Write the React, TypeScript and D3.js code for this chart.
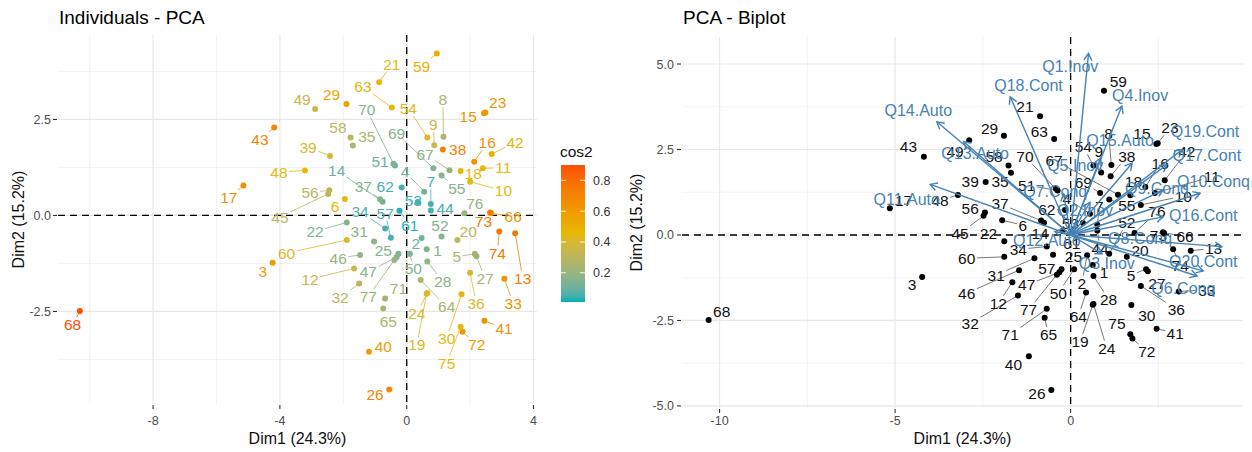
import React from "react";
import * as d3 from "d3";

// ---------- individuals ----------
const indNames = ["1","2","3","4","5","6","7","8","9","10","11","12","13","14","15","16","17","18","19","20","21","22","23","24","25","26","27","28","29","30","31","32","33","34","35","36","37","38","39","40","41","42","43","44","45","46","47","48","49","50","51","52","53","54","55","56","57","58","59","60","61","62","63","64","65","66","67","68","69","70","71","72","73","74","75","76","77"];
const dim1 = [0.63,0.47,-4.23,0.55,2.15,-1.95,0.76,1.16,0.87,2.0,2.4,-1.66,3.42,-0.76,2.44,2.13,-5.15,1.7,0.63,1.6,-0.87,-1.89,2.48,0.65,-0.26,-0.55,2.2,0.65,-1.9,1.73,-1.03,-1.5,3.08,-0.68,-1.7,2.0,-0.84,1.14,-2.42,-1.19,2.45,2.68,-4.18,0.76,-2.48,-1.47,-0.32,-3.21,-2.89,0.1,-0.37,1.1,0.35,0.65,1.1,-2.44,-0.5,-1.77,0.95,-1.89,-0.23,-0.16,-0.47,0.44,-0.74,2.66,1.35,-10.31,0.84,-0.42,-0.68,1.76,2.63,2.92,1.7,1.82,-0.39];
const dim2 = [-0.88,-0.59,-1.23,0.62,-1.0,0.43,0.3,2.05,1.83,0.88,1.23,-1.38,-0.46,0.36,2.66,1.4,0.78,1.16,-2.04,-0.64,3.47,-0.18,2.68,-2.02,-1.0,-4.53,-1.06,-1.2,2.9,-2.05,-0.68,-1.77,-1.65,-0.34,1.82,-1.49,0.42,1.72,1.55,-3.55,-2.74,1.6,2.29,0.13,0.56,-1.03,-1.09,1.17,2.77,-1.0,1.3,-0.55,0.35,2.03,1.04,0.66,-0.58,2.03,4.22,-0.64,0.12,0.73,2.81,-1.68,-2.42,0.06,1.18,-2.49,1.23,1.35,-2.16,-3.03,0.08,-0.42,-2.9,0.06,-1.16];
const cos2 = [0.15,0.12,0.6,0.12,0.25,0.45,0.05,0.25,0.35,0.45,0.45,0.35,0.75,0.1,0.62,0.65,0.65,0.45,0.42,0.3,0.45,0.15,0.62,0.42,0.15,0.7,0.22,0.18,0.55,0.45,0.18,0.3,0.65,0.05,0.25,0.4,0.15,0.72,0.4,0.6,0.65,0.5,0.7,0.05,0.3,0.2,0.15,0.45,0.35,0.15,0.1,0.15,0.04,0.42,0.15,0.3,0.05,0.3,0.5,0.42,0.02,0.05,0.45,0.25,0.25,0.6,0.18,0.9,0.15,0.15,0.22,0.6,0.75,0.75,0.45,0.2,0.2];
// repelled label anchors (data units)
const indLabelX1 = [0.97,0.29,-4.54,-0.05,1.58,-2.26,0.76,1.14,0.84,3.05,3.05,-3.05,3.66,-2.21,1.94,2.54,-5.61,2.1,0.32,1.94,-0.47,-2.89,2.87,0.32,-0.74,-1.0,2.47,1.14,-2.37,1.26,-1.5,-2.1,3.36,-1.47,-1.26,2.19,-1.37,1.61,-3.11,-0.74,3.07,3.42,-4.63,1.21,-4.0,-2.16,-1.21,-4.03,-3.3,0.21,-0.84,1.05,0.21,0.05,1.58,-3.05,-0.68,-2.17,0.47,-3.79,0.1,-0.68,-1.38,1.26,-0.58,3.36,0.58,-10.54,-0.32,-1.26,-0.26,2.21,2.42,2.86,1.26,2.15,-1.21];
const indLabelY1 = [-0.9,-0.72,-1.46,1.14,-1.07,0.23,0.88,3.01,2.36,0.64,1.24,-1.66,-1.64,1.18,2.57,1.9,0.46,1.1,-3.37,-0.42,3.94,-0.42,2.94,-2.55,-0.9,-4.67,-1.64,-1.72,3.14,-3.2,-0.42,-2.14,-2.29,0.1,2.07,-2.29,0.75,1.71,1.78,-3.42,-2.94,1.9,1.97,0.19,-0.04,-1.11,-1.46,1.13,3.03,-1.38,1.4,-0.25,0.4,2.79,0.71,0.59,0.06,2.3,3.88,-0.98,-0.25,0.75,3.35,-2.38,-2.77,-0.03,1.6,-2.85,2.14,2.75,-1.9,-3.37,-0.16,-0.98,-3.85,0.32,-2.11];
const indLabelX2 = [0.95,0.32,-4.52,-0.11,1.72,-1.36,0.82,1.08,0.8,3.21,4.02,-2.06,4.07,-0.87,2.03,2.55,-4.76,1.79,0.27,1.98,-1.3,-2.34,2.83,1.03,0.08,-0.96,2.46,1.08,-2.31,2.17,-2.12,-2.86,3.88,-1.49,-2.01,3.01,-2.01,1.6,-2.86,-1.63,2.98,3.31,-4.62,0.84,-3.15,-2.96,-1.25,-3.72,-3.29,-0.35,-1.25,1.6,-0.01,0.36,1.6,-2.86,-0.68,-2.18,1.36,-2.96,0.03,-0.68,-0.89,0.22,-0.63,3.26,-0.47,-9.94,0.36,-1.3,-1.72,2.17,2.5,3.12,1.32,2.46,-1.2];
const indLabelY2 = [-1.1,-1.41,-1.46,1.07,-1.17,0.29,0.83,2.97,2.45,1.14,1.7,-2.0,-0.39,0.05,2.97,2.1,1.02,1.56,-3.12,-0.44,3.75,0.05,3.14,-3.31,-0.63,-4.63,-1.41,-1.88,3.12,-2.34,-1.17,-2.58,-1.61,-0.42,1.56,-2.17,0.91,2.29,1.56,-3.8,-2.87,2.44,2.58,-0.39,0.05,-1.7,-1.46,1.02,2.44,-1.7,1.46,0.36,0.34,2.58,0.85,0.78,-0.97,2.29,4.48,-0.68,-0.24,0.75,3.04,-2.39,-2.92,-0.03,2.19,-2.24,1.53,2.29,-2.92,-3.41,0.0,-0.88,-2.58,0.68,-2.19];

// ---------- variables ----------
const varNames = ["Q1.Inov","Q2.Inov","Q3.Inov","Q4.Inov","Q5.Inov","Q6.Conq","Q7.Conq","Q8.Conq","Q9.Conq","Q10.Conq","Q11.Auto","Q12.Auto","Q13.Auto","Q14.Auto","Q15.Auto","Q16.Cont","Q17.Cont","Q18.Cont","Q19.Cont","Q20.Cont"];
const varX = [0.51,0.55,0.9,1.46,0.85,3.6,-0.2,4.31,2.64,3.69,-4.0,-0.45,-3.05,-3.81,1.75,2.64,2.74,-1.72,3.17,3.78];
const varY = [5.31,0.95,-0.55,3.77,2.25,-1.2,1.2,-0.34,1.32,1.22,1.48,0.1,2.73,3.31,2.1,0.53,2.05,4.04,2.49,-1.05];
const varLabelX = [-0.01,0.41,1.03,1.98,0.13,3.21,-0.44,1.98,2.46,4.07,-4.67,-0.68,-2.72,-4.34,1.41,3.78,3.88,-1.2,3.83,3.78];
const varLabelY = [4.92,0.73,-0.83,4.09,2.05,-1.56,1.27,-0.1,1.37,1.56,1.04,-0.15,2.4,3.65,2.78,0.58,2.34,4.39,3.02,-0.78];

// ---------- axes ----------
const leftXTicks = [-8, -4, 0, 4];
const leftXMinor = [-10, -6, -2, 2];
const leftYTicks = [-2.5, 0, 2.5];
const leftYMinor = [-3.75, -1.25, 1.25, 3.75];
const rightXTicks = [-10, -5, 0];
const rightXMinor = [-7.5, -2.5, 2.5];
const rightYTicks = [-5, -2.5, 0, 2.5, 5];
const rightYMinor = [-3.75, -1.25, 1.25, 3.75];
const legendTicks = [0.2, 0.4, 0.6, 0.8];
const cos2Range = [0.01, 0.9];

const FONT = "'Liberation Sans', Arial, Helvetica, sans-serif";

function segmentTo(px: number, py: number, lx: number, ly: number, text: string, fs: number) {
  const w = text.length * fs * 0.556 + 3;
  const h = fs * 0.72 + 4;
  const dx = px - lx, dy = py - ly;
  if (Math.abs(dx) <= w / 2 && Math.abs(dy) <= h / 2) return null;
  const tx = dx === 0 ? Infinity : Math.abs(w / 2 / dx);
  const ty = dy === 0 ? Infinity : Math.abs(h / 2 / dy);
  const t = Math.min(tx, ty);
  const ex = lx + dx * t, ey = ly + dy * t;
  const len = Math.hypot(px - ex, py - ey);
  if (len < 7) return null;
  return { x1: px, y1: py, x2: ex, y2: ey };
}

function fmt(v: number) {
  return Number.isInteger(v) ? String(v) : v.toFixed(1);
}

export default function App() {
  const W = 1252, H = 452;
  const xL = d3.scaleLinear().domain([-11.0, 4.11]).range([58, 537]);
  const yL = d3.scaleLinear().domain([-4.91, 4.70]).range([404, 35]);
  const xR = d3.scaleLinear().domain([-11.07, 4.91]).range([682, 1243]);
  const yR = d3.scaleLinear().domain([-5.06, 5.79]).range([408, 37]);
  const col = d3
    .scaleLinear<string>()
    .domain([cos2Range[0], (cos2Range[0] + cos2Range[1]) / 2, cos2Range[1]])
    .range(["#00AFBB", "#E7B800", "#FC4E07"])
    .interpolate(d3.interpolateLab);
  const legY = d3.scaleLinear().domain(cos2Range).range([302, 165]);

  const fsInd = 15.5;
  const fsVar = 16;

  const panel = (
    x: d3.ScaleLinear<number, number>,
    y: d3.ScaleLinear<number, number>,
    xt: number[], xm: number[], yt: number[], ym: number[],
    yLabelRight: number
  ) => {
    const [x0, x1] = x.range();
    const [y0, y1] = y.range(); // y0 bottom, y1 top
    return (
      <g>
        {xm.map((v) => (
          <line key={"xm" + v} x1={x(v)} x2={x(v)} y1={y1} y2={y0} stroke="#F0F0F0" strokeWidth={0.8} />
        ))}
        {ym.map((v) => (
          <line key={"ym" + v} x1={x0} x2={x1} y1={y(v)} y2={y(v)} stroke="#F0F0F0" strokeWidth={0.8} />
        ))}
        {xt.map((v) => (
          <line key={"xt" + v} x1={x(v)} x2={x(v)} y1={y1} y2={y0} stroke="#E8E8E8" strokeWidth={1.2} />
        ))}
        {yt.map((v) => (
          <line key={"yt" + v} x1={x0} x2={x1} y1={y(v)} y2={y(v)} stroke="#E8E8E8" strokeWidth={1.2} />
        ))}
        {xt.map((v) => (
          <g key={"xl" + v}>
            <line x1={x(v)} x2={x(v)} y1={y0 + 1} y2={y0 + 5} stroke="#333" strokeWidth={1.1} />
            <text x={x(v)} y={424.5} textAnchor="middle" fontSize={12.5} fill="#4D4D4D" fontFamily={FONT}>
              {fmt(v)}
            </text>
          </g>
        ))}
        {yt.map((v) => (
          <g key={"yl" + v}>
            <line x1={x0 - 5} x2={x0 - 1} y1={y(v)} y2={y(v)} stroke="#333" strokeWidth={1.1} />
            <text x={yLabelRight} y={y(v) + 4.5} textAnchor="end" fontSize={12.5} fill="#4D4D4D" fontFamily={FONT}>
              {v.toFixed(1)}
            </text>
          </g>
        ))}
        <line x1={x0} x2={x1} y1={y(0)} y2={y(0)} stroke="#000" strokeWidth={1.3} strokeDasharray="7,5" />
        <line x1={x(0)} x2={x(0)} y1={y1} y2={y0} stroke="#000" strokeWidth={1.3} strokeDasharray="7,5" />
      </g>
    );
  };

  const idx = indNames.map((_, i) => i);

  // legend gradient stops
  const stops = d3.range(0, 1.0001, 0.05).map((t) => ({
    off: t,
    c: col(cos2Range[0] + t * (cos2Range[1] - cos2Range[0])),
  }));

  const arrowHead = (x0: number, y0: number, x1: number, y1: number) => {
    const a = Math.atan2(y1 - y0, x1 - x0);
    const L = 8, da = Math.PI / 6;
    const p1 = [x1 - L * Math.cos(a - da), y1 - L * Math.sin(a - da)];
    const p2 = [x1 - L * Math.cos(a + da), y1 - L * Math.sin(a + da)];
    return `M${p1[0]},${p1[1]}L${x1},${y1}L${p2[0]},${p2[1]}`;
  };

  return (
    <svg width={W} height={H} style={{ position: "absolute", left: 0, top: 0, background: "#fff" }} fontFamily={FONT}>
      <rect x={0} y={0} width={W} height={H} fill="#fff" />
      <defs>
        <linearGradient id="cosgrad" x1="0" y1="1" x2="0" y2="0">
          {stops.map((s) => (
            <stop key={s.off} offset={s.off} stopColor={s.c} />
          ))}
        </linearGradient>
      </defs>

      {/* ---------- Left panel ---------- */}
      <text x={59} y={23.5} fontSize={19} fill="#000">Individuals - PCA</text>
      {panel(xL, yL, leftXTicks, leftXMinor, leftYTicks, leftYMinor, 51)}
      <g>
        {idx.map((i) => {
          const px = xL(dim1[i]), py = yL(dim2[i]);
          const lx = xL(indLabelX1[i]), ly = yL(indLabelY1[i]);
          const s = segmentTo(px, py, lx, ly, indNames[i], fsInd);
          return s ? (
            <line key={"ls" + i} {...s} stroke={col(cos2[i])} strokeWidth={0.8} />
          ) : null;
        })}
        {idx.map((i) => (
          <circle key={"lp" + i} cx={xL(dim1[i])} cy={yL(dim2[i])} r={3} fill={col(cos2[i])} />
        ))}
        {idx.map((i) => (
          <text
            key={"lt" + i}
            x={xL(indLabelX1[i])}
            y={yL(indLabelY1[i]) + 0.358 * fsInd}
            textAnchor="middle"
            fontSize={fsInd}
            fill={col(cos2[i])}
          >
            {indNames[i]}
          </text>
        ))}
      </g>
      <text x={297.5} y={443.7} textAnchor="middle" fontSize={16} fill="#111">Dim1 (24.3%)</text>
      <text transform="translate(23.7,219.5) rotate(-90)" textAnchor="middle" fontSize={16} fill="#111">Dim2 (15.2%)</text>

      {/* legend */}
      <text x={560} y={157} fontSize={15.5} fill="#111">cos2</text>
      <rect x={561} y={165} width={24} height={137} fill="url(#cosgrad)" />
      {legendTicks.map((t) => (
        <g key={"lg" + t}>
          <line x1={561} x2={566} y1={legY(t)} y2={legY(t)} stroke="#fff" strokeWidth={0.9} />
          <line x1={580} x2={585} y1={legY(t)} y2={legY(t)} stroke="#fff" strokeWidth={0.9} />
          <text x={593} y={legY(t) + 4.5} fontSize={12.5} fill="#333">{t.toFixed(1)}</text>
        </g>
      ))}

      {/* ---------- Right panel ---------- */}
      <text x={683} y={23.5} fontSize={19} fill="#000">PCA - Biplot</text>
      {panel(xR, yR, rightXTicks, rightXMinor, rightYTicks, rightYMinor, 674)}
      <g>
        {idx.map((i) => {
          const px = xR(dim1[i]), py = yR(dim2[i]);
          const lx = xR(indLabelX2[i]), ly = yR(indLabelY2[i]);
          const s = segmentTo(px, py, lx, ly, indNames[i], fsInd);
          return s ? <line key={"rs" + i} {...s} stroke="#555" strokeWidth={0.8} /> : null;
        })}
        {idx.map((i) => (
          <circle key={"rp" + i} cx={xR(dim1[i])} cy={yR(dim2[i])} r={3} fill="#000" />
        ))}
        {idx.map((i) => (
          <text
            key={"rt" + i}
            x={xR(indLabelX2[i])}
            y={yR(indLabelY2[i]) + 0.358 * fsInd}
            textAnchor="middle"
            fontSize={fsInd}
            fill="#111"
          >
            {indNames[i]}
          </text>
        ))}
      </g>
      <g>
        {varNames.map((n, i) => {
          const x0 = xR(0), y0 = yR(0), x1 = xR(varX[i]), y1 = yR(varY[i]);
          return (
            <g key={"v" + n}>
              <line x1={x0} y1={y0} x2={x1} y2={y1} stroke="#4682B4" strokeWidth={1.4} />
              <path d={arrowHead(x0, y0, x1, y1)} fill="none" stroke="#4682B4" strokeWidth={1.4} />
            </g>
          );
        })}
        {varNames.map((n, i) => (
          <text
            key={"vt" + n}
            x={xR(varLabelX[i])}
            y={yR(varLabelY[i]) + 0.358 * fsVar}
            textAnchor="middle"
            fontSize={fsVar}
            fill="#4682B4"
          >
            {n}
          </text>
        ))}
      </g>
      <text x={962.5} y={443.7} textAnchor="middle" fontSize={16} fill="#111">Dim1 (24.3%)</text>
      <text transform="translate(642.4,222.5) rotate(-90)" textAnchor="middle" fontSize={16} fill="#111">Dim2 (15.2%)</text>
    </svg>
  );
}
